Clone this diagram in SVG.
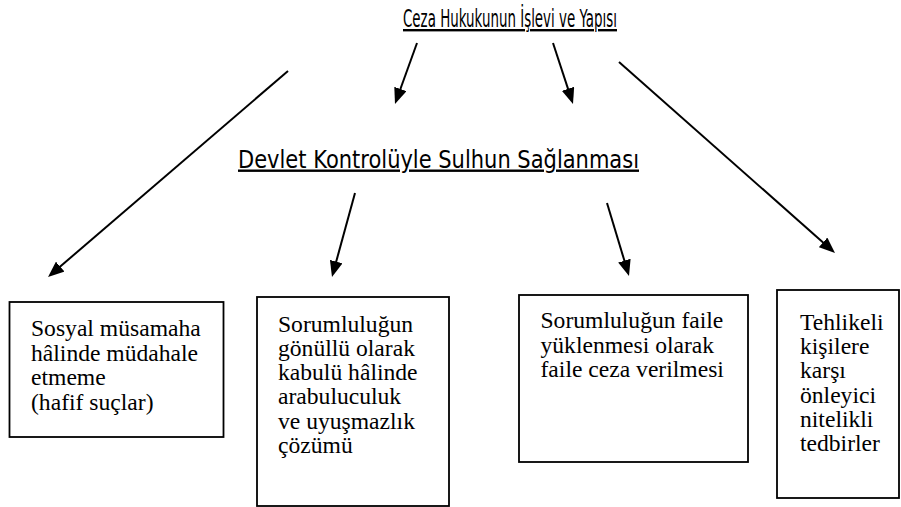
<svg xmlns="http://www.w3.org/2000/svg" width="901" height="507" viewBox="0 0 901 507">
  <defs>
    <marker id="ah" markerUnits="userSpaceOnUse" markerWidth="16" markerHeight="13" refX="8" refY="6.5" orient="auto">
      <path d="M0,0 L16,6.5 L0,13 Z" fill="#000"/>
    </marker>
    <style>
      .title { font-size: 24px; fill: #000; text-decoration: underline; }
      .box { fill: #fff; stroke: #000; stroke-width: 1.8; }
      .lbl { font-size: 23.6px; fill: #000; }
      .conn { stroke: #000; stroke-width: 2; fill: none; marker-end: url(#ah); }
    </style>
  </defs>
  <rect width="901" height="507" fill="#fff"/>

  <g id="title-main">
    <text class="title" font-family="'DejaVu Sans', sans-serif" x="403" y="27" textLength="214" lengthAdjust="spacingAndGlyphs">Ceza Hukukunun İşlevi ve Yapısı</text>
  </g>

  <g id="title-sub">
    <text class="title" font-family="'DejaVu Sans', sans-serif" x="238" y="167.5" textLength="401" lengthAdjust="spacingAndGlyphs">Devlet Kontrolüyle Sulhun Sağlanması</text>
  </g>

  <g id="connectors">
    <line class="conn" x1="288" y1="71" x2="54.1" y2="271.8"/>
    <line class="conn" x1="417" y1="43" x2="397.7" y2="96.5"/>
    <line class="conn" x1="553" y1="43" x2="570.5" y2="96.4"/>
    <line class="conn" x1="619" y1="62" x2="829" y2="247.7"/>
    <line class="conn" x1="355" y1="193" x2="334.1" y2="269.3"/>
    <line class="conn" x1="607" y1="203" x2="626.7" y2="268.3"/>
  </g>

  <g id="node-1">
    <rect class="box" x="9.5" y="302" width="214" height="135"/>
    <text class="lbl" font-family="'Liberation Serif', 'Times New Roman', serif">
      <tspan x="31" y="336">Sosyal müsamaha</tspan>
      <tspan x="31" y="360.5">hâlinde müdahale</tspan>
      <tspan x="31" y="385">etmeme</tspan>
      <tspan x="31" y="409.5">(hafif suçlar)</tspan>
    </text>
  </g>

  <g id="node-2">
    <rect class="box" x="257" y="297" width="192" height="209"/>
    <text class="lbl" font-family="'Liberation Serif', 'Times New Roman', serif">
      <tspan x="278" y="331.5">Sorumluluğun</tspan>
      <tspan x="278" y="355.8">gönüllü olarak</tspan>
      <tspan x="278" y="380.1">kabulü hâlinde</tspan>
      <tspan x="278" y="404.4">arabuluculuk</tspan>
      <tspan x="278" y="428.7">ve uyuşmazlık</tspan>
      <tspan x="278" y="453">çözümü</tspan>
    </text>
  </g>

  <g id="node-3">
    <rect class="box" x="519" y="295" width="229" height="167"/>
    <text class="lbl" font-family="'Liberation Serif', 'Times New Roman', serif">
      <tspan x="540.5" y="328">Sorumluluğun faile</tspan>
      <tspan x="540.5" y="352.5">yüklenmesi olarak</tspan>
      <tspan x="540.5" y="377">faile ceza verilmesi</tspan>
    </text>
  </g>

  <g id="node-4">
    <rect class="box" x="777" y="290" width="122" height="208"/>
    <text class="lbl" font-family="'Liberation Serif', 'Times New Roman', serif">
      <tspan x="800" y="330">Tehlikeli</tspan>
      <tspan x="800" y="354.2">kişilere</tspan>
      <tspan x="800" y="378.4">karşı</tspan>
      <tspan x="800" y="402.6">önleyici</tspan>
      <tspan x="800" y="426.8">nitelikli</tspan>
      <tspan x="800" y="451">tedbirler</tspan>
    </text>
  </g>
</svg>
